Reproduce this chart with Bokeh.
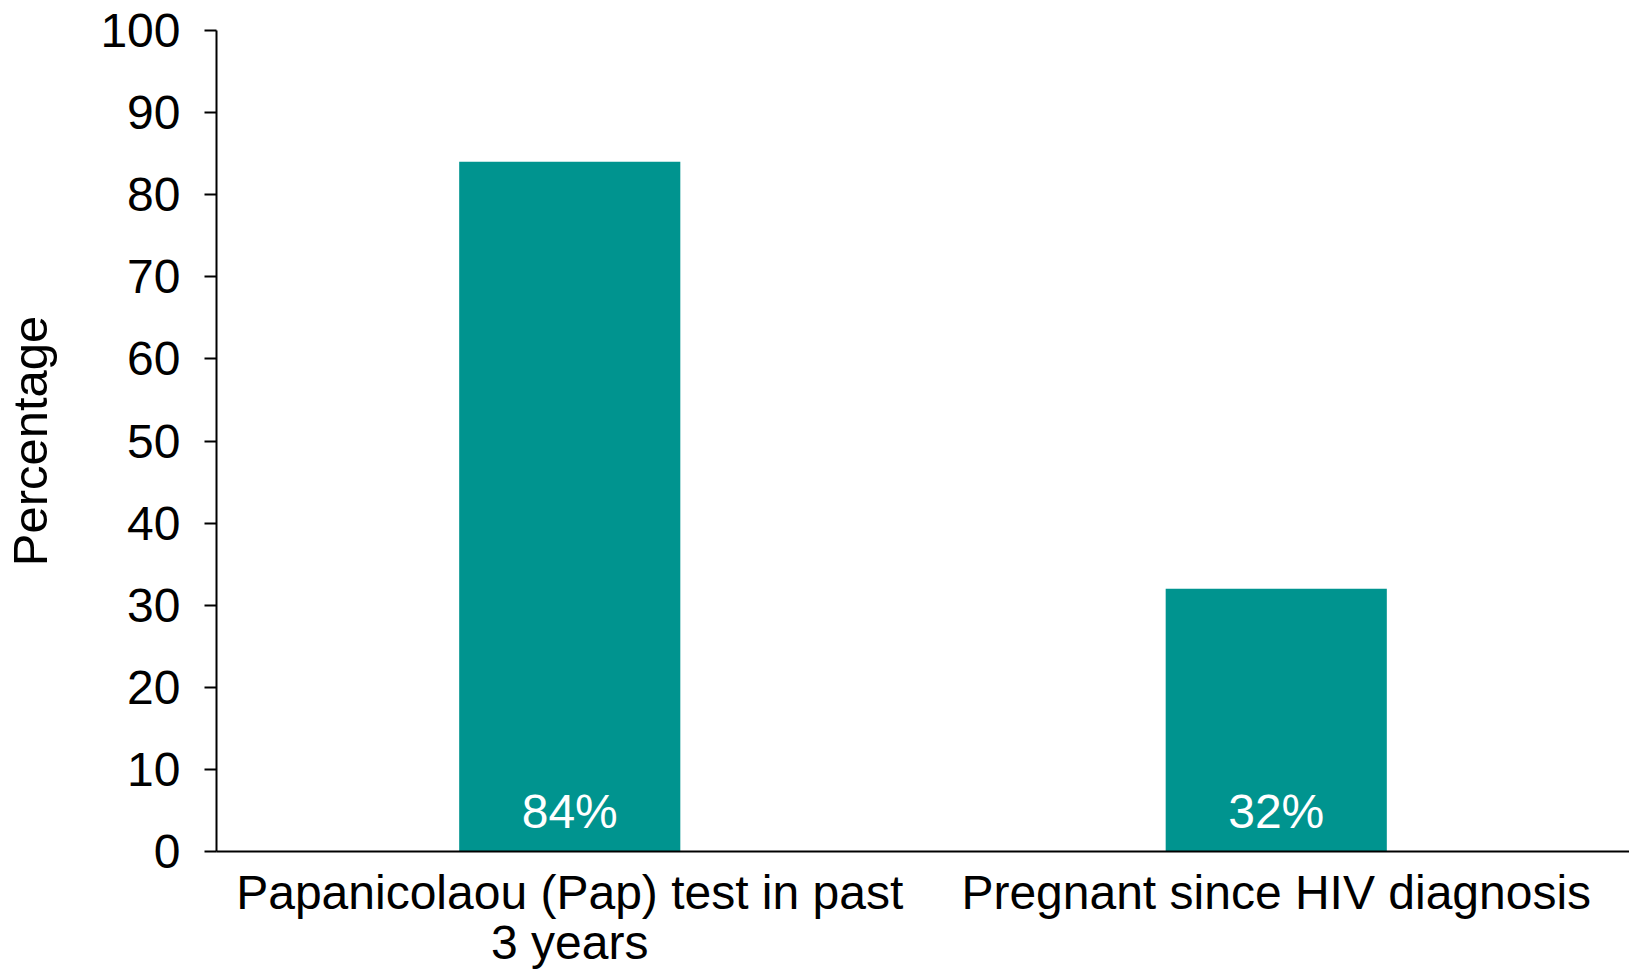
from bokeh.plotting import figure
from bokeh.models import ColumnDataSource, FixedTicker, Range1d
from bokeh.core.properties import value
from bokeh.embed import file_html
from bokeh.resources import INLINE

categories = ["Papanicolaou (Pap) test in past\n3 years", "Pregnant since HIV diagnosis"]
values = [84, 32]
bar_labels = ["84%", "32%"]
y_ticks = [0, 10, 20, 30, 40, 50, 60, 70, 80, 90, 100]

TEAL = "#00948F"
FONT = "Liberation Sans"
LABEL_Y = 4.9

src = ColumnDataSource(dict(cat=categories, val=values, lab=bar_labels,
                            ly=[LABEL_Y] * len(values)))

p = figure(x_range=categories, y_range=Range1d(0, 100),
           width=1629, height=971, output_backend="svg", toolbar_location=None,
           min_border_left=216, min_border_top=30, min_border_right=0, min_border_bottom=100)

p.vbar(x="cat", top="val", width=0.313, source=src, fill_color=TEAL, line_color=None)
p.text(x="cat", y="ly", text="lab", source=src, text_color="white",
       text_font=value(FONT), text_font_size="48px", text_align="center",
       text_baseline="middle")

p.outline_line_color = None
p.xgrid.grid_line_color = None
p.ygrid.grid_line_color = None

p.yaxis.ticker = FixedTicker(ticks=y_ticks)
p.yaxis.axis_label = "Percentage"
p.yaxis.axis_label_text_font = FONT
p.yaxis.axis_label_text_font_style = "normal"
p.yaxis.axis_label_text_font_size = "49px"
p.yaxis.axis_label_text_color = "black"
p.yaxis.axis_label_standoff = 40
p.yaxis.major_label_text_font = FONT
p.yaxis.major_label_text_font_size = "48px"
p.yaxis.major_label_text_color = "black"
p.yaxis.major_label_standoff = 24
p.yaxis.major_tick_out = 12
p.yaxis.major_tick_in = 0
p.yaxis.minor_tick_out = 0
p.yaxis.minor_tick_in = 0
p.yaxis.axis_line_width = 2
p.yaxis.major_tick_line_width = 2
p.yaxis.axis_line_color = "black"
p.yaxis.major_tick_line_color = "black"

p.xaxis.major_label_text_font = FONT
p.xaxis.major_label_text_font_size = "48px"
p.xaxis.major_label_text_line_height = 0.95
p.xaxis.major_label_text_color = "black"
p.xaxis.major_label_standoff = 14
p.xaxis.major_tick_out = 0
p.xaxis.major_tick_in = 0
p.xaxis.minor_tick_out = 0
p.xaxis.axis_line_width = 2
p.xaxis.axis_line_color = "black"

open("out.html", "w").write(file_html(p, INLINE))
